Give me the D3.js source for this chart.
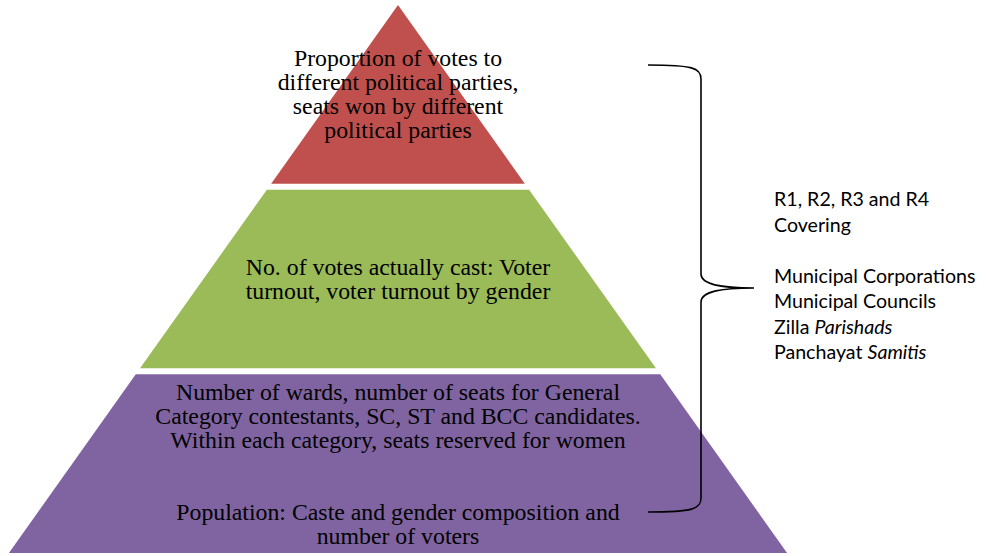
<!DOCTYPE html>
<html>
<head>
<meta charset="utf-8">
<script src="https://cdn.jsdelivr.net/npm/d3@7"></script>
<style>
  html, body { margin: 0; padding: 0; background: #fff; }
  svg { display: block; }
</style>
</head>
<body>
<div id="chart"></div>
<script>
// tiers, top to bottom
const tierNames = ["Outcome", "Turnout", "Base"];
const tierColors = ["#C0504D", "#9BBB59", "#8064A2"];
const tierLines = [
  ["Proportion of votes to", "different political parties,", "seats won by different", "political parties"],
  ["No. of votes actually cast: Voter", "turnout, voter turnout by gender"],
  ["Number of wards, number of seats for General", "Category contestants, SC, ST and BCC candidates.",
   "Within each category, seats reserved for women", "", "",
   "Population: Caste and gender composition and", "number of voters"]
];
// side note, each line is a list of [text, italic]
const noteLines = [
  [["R1, R2, R3 and R4", false]],
  [["Covering", false]],
  [],
  [["Municipal Corporations", false]],
  [["Municipal Councils", false]],
  [["Zilla ", false], ["Parishads", true]],
  [["Panchayat ", false], ["Samitis", true]]
];

const W = 989, H = 556;
const svg = d3.select("#chart").append("svg").attr("width", W).attr("height", H);

const apexX = 398, apexY = 5, slope = 0.71, gap = 6;
// level scale: pyramid levels to pixel rows
const y = d3.scaleLinear().domain([0, tierNames.length]).range([apexY, 559]);
function halfW(py){ return (py - apexY) * slope; }

tierNames.forEach(function(name, i){
  let y0 = i === 0 ? apexY : y(i),
      y1 = y(i + 1) - gap;
  const pts = [
    [apexX - halfW(y0), y0], [apexX + halfW(y0), y0],
    [apexX + halfW(y1), y1], [apexX - halfW(y1), y1]
  ];
  svg.append("path")
    .attr("d", d3.line()(pts) + "Z")
    .style("fill", tierColors[i]);

  const lines = tierLines[i],
        lh = 24,
        mid = (y0 + Math.min(y1, H)) / 2;
  lines.forEach(function(t, li){
    if(!t) return;
    svg.append("text")
      .attr("x", apexX)
      .attr("y", mid + (li - (lines.length - 1) / 2) * lh)
      .attr("text-anchor", "middle")
      .attr("dominant-baseline", "central")
      .style("font-family", "'Liberation Serif', 'Times New Roman', serif")
      .style("font-size", "23.8px")
      .style("fill", "#000")
      .text(t);
  });
});

// curly brace
const bx0 = 648, bx1 = 701, tipX = 754, braceTop = 65, braceBot = 512, tipY = 288;
const brace = d3.path();
brace.moveTo(bx0, braceTop);
brace.bezierCurveTo(bx1 - 8, braceTop, bx1, braceTop + 3, bx1, braceTop + 14);
brace.lineTo(bx1, tipY - 14);
brace.bezierCurveTo(bx1, tipY - 3, bx1 + 22, tipY, tipX, tipY);
brace.bezierCurveTo(bx1 + 22, tipY, bx1, tipY + 3, bx1, tipY + 14);
brace.lineTo(bx1, braceBot - 14);
brace.bezierCurveTo(bx1, braceBot - 3, bx1 - 8, braceBot, bx0, braceBot);
svg.append("path")
  .attr("d", brace.toString())
  .style("fill", "none")
  .style("stroke", "#000")
  .style("stroke-width", 1.6);

// side note text
const noteX = 774, noteY0 = 198, noteLh = 25.5;
noteLines.forEach(function(parts, li){
  if(!parts.length) return;
  const t = svg.append("text")
    .attr("x", noteX)
    .attr("y", noteY0 + li * noteLh)
    .attr("dominant-baseline", "central")
    .style("font-family", "Lato, 'Open Sans', sans-serif")
    .style("font-size", "19.6px")
    .style("fill", "#000");
  parts.forEach(function(p){
    t.append("tspan").style("font-style", p[1] ? "italic" : "normal").text(p[0]);
  });
});
</script>
</body>
</html>
